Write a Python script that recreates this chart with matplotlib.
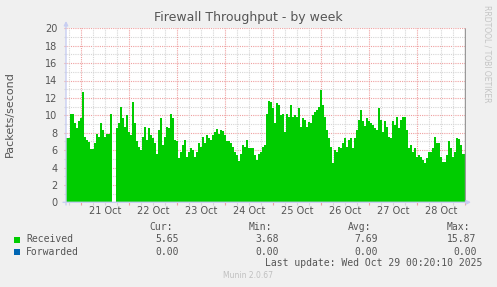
import numpy as np
import matplotlib
matplotlib.use("Agg")
import matplotlib.pyplot as plt
from matplotlib.patches import Rectangle

# ---------------- data ----------------
# hourly samples (packets/second), starting Oct 20 16:20 and ending Oct 29 00:20
received = [
    7.4, 7.4, 10.2, 10.2, 9.1, 8.5, 9.3, 9.7, 12.7, 7.5,
    7.2, 6.9, 6.1, 6.1, 6.8, 7.9, 7.5, 9.1, 8.3, 7.5,
    7.9, 7.9, 10.2, np.nan, np.nan, 8.5, 9.1, 10.9, 9.7, 8.7,
    10.0, 8.1, 7.7, 11.5, 9.1, 7.0, 6.4, 6.0, 7.5, 8.7,
    7.2, 8.5, 7.7, 7.4, 6.8, 5.6, 8.3, 9.7, 6.6, 7.5,
    8.7, 8.5, 10.2, 9.7, 7.2, 7.0, 5.1, 5.8, 6.6, 7.2,
    5.2, 5.8, 6.2, 6.0, 5.2, 5.8, 6.8, 6.4, 7.5, 6.8,
    7.7, 7.4, 7.2, 7.7, 8.1, 8.4, 7.9, 8.3, 8.2, 7.7,
    7.1, 7.0, 6.8, 6.4, 5.8, 5.4, 4.7, 5.6, 6.6, 6.4,
    7.2, 6.2, 6.2, 6.2, 5.4, 4.9, 5.6, 5.8, 6.4, 6.6,
    10.2, 11.6, 11.5, 10.8, 9.1, 11.4, 11.2, 10.0, 10.2, 8.1,
    10.2, 9.8, 11.2, 9.8, 10.0, 9.8, 10.8, 8.7, 9.7, 9.5,
    8.7, 9.2, 9.1, 10.0, 10.4, 10.6, 11.0, 12.9, 11.2, 9.8,
    8.3, 7.4, 6.4, 4.5, 6.0, 5.8, 6.4, 6.2, 6.8, 7.4,
    6.4, 7.2, 7.4, 6.2, 7.4, 8.3, 9.5, 10.6, 9.4, 8.8,
    9.7, 9.3, 9.1, 8.9, 8.5, 8.3, 10.8, 9.5, 8.1, 9.3,
    8.7, 7.5, 7.4, 9.3, 8.9, 9.8, 8.5, 9.5, 9.8, 9.8,
    8.3, 6.2, 6.6, 5.8, 6.2, 5.2, 5.4, 5.2, 4.9, 4.5,
    5.1, 5.8, 5.8, 6.2, 7.5, 6.8, 6.8, 5.2, 4.6, 4.6,
    5.4, 7.0, 6.2, 5.2, 5.8, 7.4, 7.3, 6.6, 5.6, 5.6,
]
forwarded = [0.0] * len(received)

day_labels = ["21 Oct", "22 Oct", "23 Oct", "24 Oct", "25 Oct", "26 Oct", "27 Oct", "28 Oct"]
y_ticks = [0, 2, 4, 6, 8, 10, 12, 14, 16, 18, 20]

legend_names = ["Received", "Forwarded"]
legend_colors = ["#00CC00", "#0066B3"]
stat_heads = ["Cur:", "Min:", "Avg:", "Max:"]
stats = [["5.65", "3.68", "7.69", "15.87"],
         ["0.00", "0.00", "0.00", "0.00"]]

title = "Firewall Throughput - by week"
ylabel = "Packets/second"
last_update = "Last update: Wed Oct 29 00:20:10 2025"
footer = "Munin 2.0.67"
side = "RRDTOOL / TOBI OETIKER"

# --------------- layout ---------------
W, H = 497, 287
TXT = "#555555"
fig = plt.figure(figsize=(W / 100, H / 100), dpi=100, facecolor="#F0F0F0")

def fx(px):
    return px / W

def fy(py):
    return (H - py) / H

ax = fig.add_axes([fx(66), fy(202.3), fx(466) - fx(66), fy(28.3) - fy(202.3)])
ax.set_facecolor("white")
span = 200.0
ax.set_xlim(0, span)
ax.set_ylim(0, 20)
for s in ax.spines.values():
    s.set_visible(False)

first_midnight = 7 + 40 / 60  # hours from start to Oct 21 00:00

# grid (under the data)
minor_grid = "#D6D6D6"
major_grid = "#EFA0A0"
dash = (0, (1, 1))
for v in range(1, 21):
    col = major_grid if v % 2 == 0 else minor_grid
    ax.hlines(v, 0, span, colors=col, linewidth=0.8, linestyles=dash, zorder=1)
    ax.hlines(v, -1.0, 0, colors=col, linewidth=0.8, clip_on=False, zorder=1)
t = first_midnight - 6
while t < span:
    if t > 0:
        k = (t - first_midnight) / 24
        col = major_grid if abs(k - round(k)) < 1e-6 else minor_grid
        ax.vlines(t, 0, 20, colors=col, linewidth=0.8, linestyles=dash, zorder=1)
        ax.vlines(t, -0.3, 0, colors=col, linewidth=0.8, clip_on=False, zorder=1)
    t += 6

# data: step area, drawn per contiguous (non-missing) run
vals = np.array(received, dtype=float)
valid = ~np.isnan(vals)
i = 0
n = len(vals)
while i < n:
    if not valid[i]:
        i += 1
        continue
    j = i
    while j < n and valid[j]:
        j += 1
    xs = np.arange(i, j + 1, dtype=float)
    ys = np.append(vals[i:j], vals[j - 1])
    ax.fill_between(xs, 0, ys, step="post", color="#00CC00", linewidth=0, zorder=2)
    i = j

# right border line
ax.vlines(span - 0.3, 0, 20, colors="#999999", linewidth=1.0, zorder=3)

# ticks/labels
noon = [first_midnight + 12 + 24 * i for i in range(len(day_labels))]
ax.set_xticks(noon)
ax.set_xticklabels(day_labels, fontsize=7, color=TXT)
ax.set_yticks(y_ticks)
ax.set_yticklabels([str(v) for v in y_ticks], fontsize=7, color=TXT)
ax.tick_params(axis="both", length=0, pad=3)
ax.tick_params(axis="y", pad=6)

# axes with arrows
axis_col = "#C8CEF2"
ax.annotate("", xy=(fx(471), fy(202.3)), xytext=(fx(63), fy(202.3)),
            xycoords="figure fraction", textcoords="figure fraction",
            arrowprops=dict(arrowstyle="-|>", color=axis_col, lw=1, mutation_scale=6,
                            shrinkA=0, shrinkB=0))
ax.annotate("", xy=(fx(66), fy(21)), xytext=(fx(66), fy(205)),
            xycoords="figure fraction", textcoords="figure fraction",
            arrowprops=dict(arrowstyle="-|>", color=axis_col, lw=1, mutation_scale=6,
                            shrinkA=0, shrinkB=0))

# texts
fig.text(fx(248), fy(18), title, ha="center", va="center", fontsize=9, color=TXT)
fig.text(fx(10), fy(114), ylabel, ha="center", va="center", rotation=90, fontsize=8, color=TXT)
fig.text(fx(487), fy(54), side, ha="center", va="center", rotation=270, fontsize=5.5, color="#C4C4C4")

mono = "DejaVu Sans Mono"
col_right = [178.5, 278.5, 377.5, 476.5]
head_right = [172.5, 272.5, 371.5, 470.5]
for hx, hd in zip(head_right, stat_heads):
    fig.text(fx(hx), fy(227.3), hd, ha="right", va="center", fontsize=7, color=TXT, family=mono)
rows_y = [239.5, 251.8]
for ry, name, colr, row in zip(rows_y, legend_names, legend_colors, stats):
    fig.add_artist(Rectangle((fx(14), fy(ry + 3)), fx(6), 6 / H, transform=fig.transFigure,
                             facecolor=colr, edgecolor="none"))
    fig.text(fx(26), fy(ry), name, ha="left", va="center", fontsize=7, color=TXT, family=mono)
    for cx, v in zip(col_right, row):
        fig.text(fx(cx), fy(ry), v, ha="right", va="center", fontsize=7, color=TXT, family=mono)
fig.text(fx(482.5), fy(263.5), last_update, ha="right", va="center", fontsize=7, color=TXT, family=mono)
fig.text(fx(248), fy(276), footer, ha="center", va="center", fontsize=5.5, color="#C0C0C0")

fig.savefig("out.png", dpi=100, facecolor=fig.get_facecolor())
